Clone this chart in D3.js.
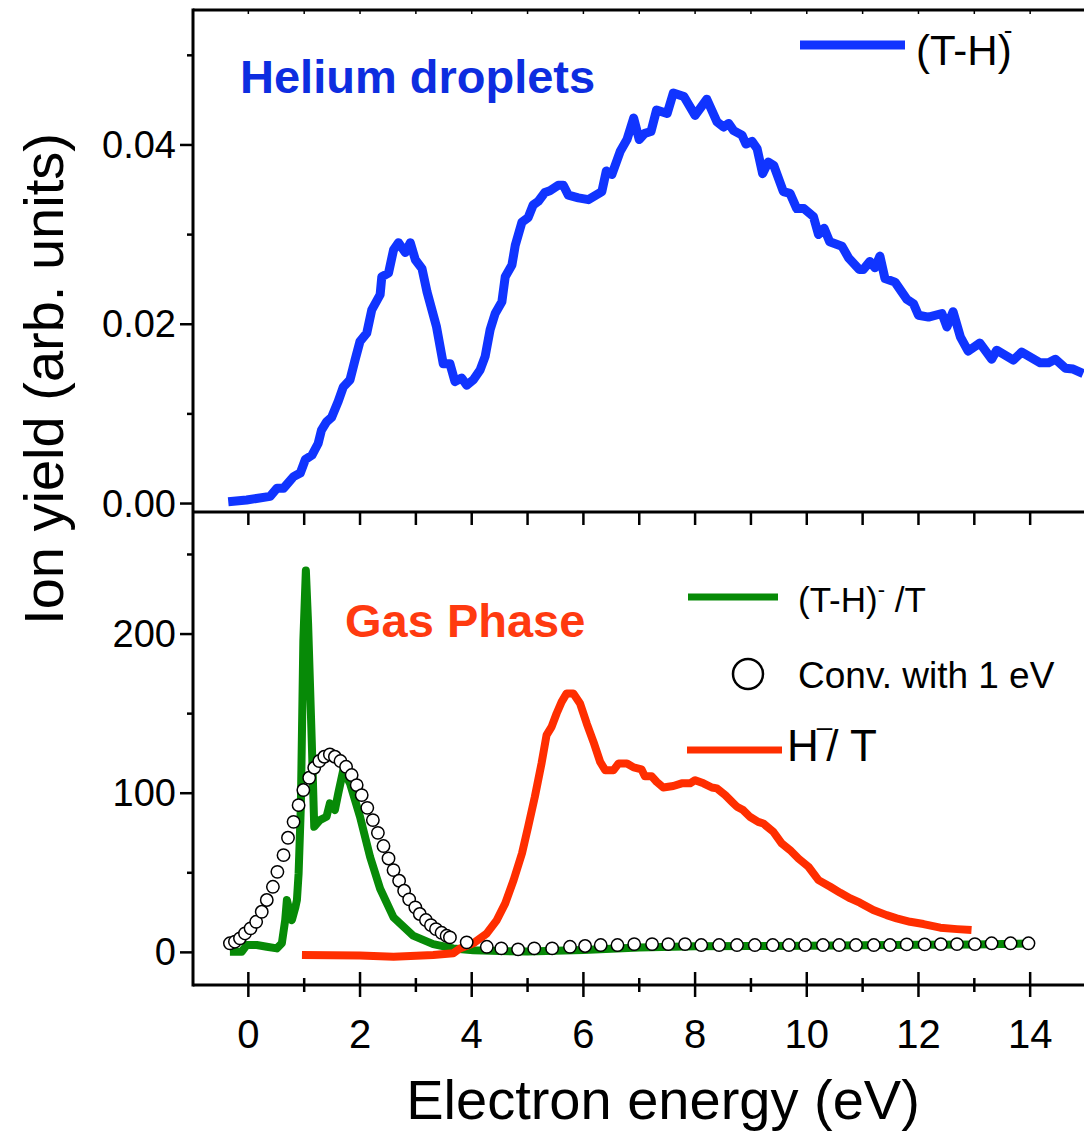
<!DOCTYPE html>
<html>
<head>
<meta charset="utf-8">
<script src="https://cdn.jsdelivr.net/npm/d3@7"></script>
<style>
  html, body { margin: 0; padding: 0; background: #fff; }
  svg { display: block; font-family: "Liberation Sans", Arial, Helvetica, sans-serif; }
</style>
</head>
<body>
<svg id="chart" width="1084" height="1132"></svg>
<script>
// ---- data: electron energy (eV) vs ion yield ----

// Helium droplets, (T-H)- yield (arb. units)
const heliumTH = [
  [-0.36,0.0002],[-0.03,0.0004],[0.39,0.0008],[0.51,0.0017],[0.63,0.0017],[0.81,0.0030],[0.93,0.0034],
  [1.02,0.0049],[1.14,0.0054],[1.25,0.0067],[1.31,0.0082],[1.40,0.0091],[1.49,0.0096],[1.61,0.0114],
  [1.70,0.0130],[1.82,0.0138],[1.91,0.0160],[2.00,0.0181],[2.12,0.0190],[2.21,0.0216],[2.36,0.0233],
  [2.39,0.0253],[2.51,0.0257],[2.60,0.0283],[2.69,0.0291],[2.81,0.0280],[2.90,0.0291],[2.99,0.0272],
  [3.11,0.0262],[3.20,0.0236],[3.37,0.0197],[3.49,0.0156],[3.61,0.0156],[3.70,0.0136],[3.82,0.0140],
  [3.91,0.0132],[4.03,0.0138],[4.15,0.0149],[4.24,0.0164],[4.33,0.0194],[4.42,0.0212],[4.54,0.0225],
  [4.60,0.0253],[4.72,0.0266],[4.78,0.0288],[4.90,0.0314],[5.01,0.0319],[5.10,0.0333],[5.19,0.0337],
  [5.31,0.0347],[5.40,0.0349],[5.55,0.0355],[5.64,0.0355],[5.73,0.0344],[5.91,0.0341],[6.09,0.0339],
  [6.33,0.0348],[6.41,0.0371],[6.51,0.0367],[6.66,0.0393],[6.78,0.0406],[6.90,0.0430],[7.00,0.0406],
  [7.10,0.0413],[7.21,0.0415],[7.31,0.0439],[7.50,0.0435],[7.61,0.0458],[7.80,0.0454],[8.00,0.0433],
  [8.21,0.0451],[8.39,0.0426],[8.51,0.0420],[8.60,0.0424],[8.69,0.0416],[8.84,0.0411],[8.91,0.0401],
  [9.02,0.0404],[9.11,0.0396],[9.21,0.0368],[9.31,0.0381],[9.41,0.0377],[9.58,0.0348],[9.70,0.0346],
  [9.82,0.0329],[9.95,0.0329],[10.12,0.0320],[10.21,0.0300],[10.31,0.0307],[10.41,0.0292],[10.63,0.0287],
  [10.75,0.0274],[10.94,0.0261],[11.01,0.0261],[11.13,0.0270],[11.22,0.0263],[11.31,0.0276],[11.40,0.0251],
  [11.58,0.0247],[11.79,0.0228],[11.91,0.0223],[12.00,0.0210],[12.18,0.0208],[12.42,0.0212],[12.51,0.0197],
  [12.62,0.0214],[12.75,0.0186],[12.89,0.0170],[13.10,0.0179],[13.31,0.0161],[13.40,0.0171],[13.70,0.0160],
  [13.85,0.0169],[14.18,0.0157],[14.33,0.0157],[14.45,0.0161],[14.63,0.0151],[14.77,0.0150],[14.95,0.0145]
];

// Gas phase, (T-H)- / T
const gasTH = [
  [-0.33,0.4],[-0.12,0.4],[-0.03,4.6],[0.15,4.6],[0.33,3.5],[0.51,2.5],[0.60,5.7],[0.66,20.3],
  [0.69,32.9],[0.75,24],[0.78,20.3],[0.84,28],[0.87,32.9],[0.90,49.6],[0.94,91.5],[0.985,196],
  [1.03,240],[1.07,206.7],[1.135,133.4],[1.18,78.9],[1.28,83.1],[1.40,85.2],[1.46,93.6],[1.55,89.4],
  [1.61,99.9],[1.70,114.5],[1.82,106.2],[2.00,85.2],[2.18,60],[2.36,40],[2.60,22],[2.95,10.5],
  [3.31,5.2],[3.67,2.5],[4.03,1.4],[4.5,0.8],[5.0,0.5],[6.0,1.5],[7.0,3.0],[8.0,3.8],[9.0,4.0],
  [10.0,4.2],[11.0,4.5],[12.0,4.8],[13.0,5.0],[14.0,5.5]
];

// Gas phase, (T-H)- / T convolved with 1 eV
const gasConv = [
  [-0.33,5.7],[-0.24,6.7],[-0.15,8.8],[-0.06,11.9],[0.04,15.1],[0.14,19.2],[0.24,25.5],[0.33,32.9],
  [0.44,41.2],[0.52,50.6],[0.63,61.1],[0.71,72],[0.81,82],[0.90,92.5],[0.985,102],[1.09,109.7],
  [1.18,116],[1.27,120.2],[1.36,122.9],[1.46,124.4],[1.55,122.9],[1.65,120.2],[1.75,116.6],[1.85,111.4],
  [1.94,105.1],[2.03,98.8],[2.13,90.8],[2.23,83.1],[2.32,75.1],[2.42,66.8],[2.51,59],[2.60,51.7],
  [2.70,45],[2.79,38.7],[2.88,33.3],[2.99,28.3],[3.07,24.1],[3.18,20.3],[3.27,17.1],[3.36,14.6],
  [3.46,12.3],[3.55,10.4],[3.61,9.4],[3.91,6.3],[4.27,3.5],[4.53,2.5],[4.83,1.9],[5.12,2.5],
  [5.44,2.5],[5.76,3.5],[6.03,4.0],[6.31,4.6],[6.61,4.6],[6.91,5.2],[7.23,5.2],[7.52,5.2],
  [7.82,5.2],[8.11,4.6],[8.43,4.6],[8.75,4.6],[9.07,4.6],[9.39,4.6],[9.68,4.6],[9.97,4.6],
  [10.29,4.6],[10.58,4.6],[10.88,4.6],[11.20,4.6],[11.49,4.6],[11.79,5.0],[12.11,5.0],[12.40,5.2],
  [12.69,5.2],[13.01,5.2],[13.31,5.7],[13.65,5.7],[13.97,5.7]
];

// Gas phase, H- / T
const gasH = [
  [0.96,-1.7],[2.0,-2.0],[2.6,-2.8],[3.31,-1.7],[3.67,-0.6],[3.79,2.5],[4.03,5.7],[4.27,11.9],
  [4.45,20.3],[4.60,30.8],[4.75,45.4],[4.90,62.2],[5.01,78.9],[5.13,97.7],[5.25,118.7],[5.34,136.5],
  [5.43,141.7],[5.52,150.1],[5.61,157.4],[5.70,162.7],[5.82,162.7],[5.94,156.4],[6.06,143.8],[6.18,132.3],
  [6.30,119.7],[6.39,114.5],[6.54,114.5],[6.63,118.7],[6.78,118.7],[6.90,116.2],[7.04,115],[7.10,110.7],
  [7.22,110.7],[7.31,107.2],[7.43,103.6],[7.61,104.5],[7.76,106.2],[7.91,106.2],[8.00,108.2],[8.15,106.2],
  [8.30,103.6],[8.39,103],[8.54,98.8],[8.66,94.6],[8.75,91.5],[8.86,89.4],[8.98,85.2],[9.13,82],
  [9.22,81],[9.40,75.8],[9.55,68.5],[9.70,64.3],[9.85,59],[10.03,53.8],[10.21,45.4],[10.42,41.2],
  [10.60,37.4],[10.78,33.9],[10.95,31.2],[11.19,26.6],[11.43,23.4],[11.61,21.4],[11.85,19.2],[12.09,17.8],
  [12.39,15.5],[12.69,14.6],[12.95,14]
];

// axis ticks
const xMajorTicks = [0, 2, 4, 6, 8, 10, 12, 14];
const xMinorTicks = [1, 3, 5, 7, 9, 11, 13, 15];
const topMajorTicks = [0.00, 0.02, 0.04];
const topMinorTicks = [0.01, 0.03, 0.05];
const bottomMajorTicks = [0, 100, 200];
const bottomMinorTicks = [50, 150, 250];

// ---- colours ----
const BLUE = "#1034ff", BLUE_TEXT = "#0d2de0";
const GREEN = "#078a07";
const RED = "#ff2e00", RED_TEXT = "#ff3a10";

const svg = d3.select("#chart");

const left = 193, right = 1086;
const topY0 = 10, sepY = 512, botY1 = 985;

const x = d3.scaleLinear().domain([-1, 15]).range([left - 0.5, right]);
const yTop = d3.scaleLinear().domain([-0.001, 0.055]).range([512.5, 10.5]);
const yBot = d3.scaleLinear().domain([-20.5, 276.5]).range([985, 512.3]);

// ---- plotted series (clipped to the panel areas) ----
const defs = svg.append("defs");
defs.append("clipPath").attr("id", "clipTop")
  .append("rect").attr("x", left).attr("y", topY0).attr("width", right - left).attr("height", sepY - topY0);
defs.append("clipPath").attr("id", "clipBot")
  .append("rect").attr("x", left).attr("y", sepY).attr("width", right - left).attr("height", botY1 - sepY);

const lineTop = d3.line().x(d => x(d[0])).y(d => yTop(d[1]));
const lineBot = d3.line().x(d => x(d[0])).y(d => yBot(d[1]));

svg.append("path").datum(heliumTH)
  .attr("clip-path", "url(#clipTop)")
  .attr("d", lineTop).attr("fill", "none").attr("stroke", BLUE)
  .attr("stroke-width", 9).attr("stroke-linejoin", "round").attr("stroke-linecap", "butt");

const gBot = svg.append("g").attr("clip-path", "url(#clipBot)");

gBot.append("path").datum(gasTH)
  .attr("d", lineBot).attr("fill", "none").attr("stroke", GREEN)
  .attr("stroke-width", 8).attr("stroke-linejoin", "round").attr("stroke-linecap", "butt");

gBot.append("path").datum(gasH)
  .attr("d", lineBot).attr("fill", "none").attr("stroke", RED)
  .attr("stroke-width", 8).attr("stroke-linejoin", "round").attr("stroke-linecap", "butt");

gBot.selectAll("circle.conv").data(gasConv).enter().append("circle")
  .attr("class", "conv")
  .attr("cx", d => x(d[0])).attr("cy", d => yBot(d[1]))
  .attr("r", 6.2).attr("fill", "#fff").attr("stroke", "#000").attr("stroke-width", 1.5);

// ---- frame and axes ----
const axisG = svg.append("g").attr("stroke", "#000").attr("stroke-width", 3).attr("fill", "none");
axisG.append("line").attr("x1", left).attr("x2", left).attr("y1", topY0 - 1.5).attr("y2", botY1 + 1.5);
axisG.append("line").attr("x1", left).attr("x2", right + 2).attr("y1", topY0).attr("y2", topY0);
axisG.append("line").attr("x1", left).attr("x2", right + 2).attr("y1", sepY).attr("y2", sepY);
axisG.append("line").attr("x1", left).attr("x2", right + 2).attr("y1", botY1).attr("y2", botY1);

const tickG = svg.append("g").attr("stroke", "#000").attr("stroke-width", 2.5);

// top frame: small inward ticks every eV
d3.range(0, 16).forEach(v => {
  tickG.append("line").attr("x1", x(v)).attr("x2", x(v)).attr("y1", topY0).attr("y2", topY0 + 4)
    .attr("stroke-width", 1.5);
});
// separator: ticks pointing down every eV
d3.range(0, 16).forEach(v => {
  tickG.append("line").attr("x1", x(v)).attr("x2", x(v)).attr("y1", sepY).attr("y2", sepY + 13);
});
// bottom axis: crossing ticks
xMajorTicks.forEach(v => {
  tickG.append("line").attr("x1", x(v)).attr("x2", x(v)).attr("y1", botY1 - 13).attr("y2", botY1 + 12);
});
xMinorTicks.forEach(v => {
  tickG.append("line").attr("x1", x(v)).attr("x2", x(v)).attr("y1", botY1 - 7).attr("y2", botY1 + 7);
});
// left axis ticks
topMajorTicks.forEach(v => {
  tickG.append("line").attr("x1", left - 13).attr("x2", left).attr("y1", yTop(v)).attr("y2", yTop(v));
});
topMinorTicks.forEach(v => {
  tickG.append("line").attr("x1", left - 6).attr("x2", left).attr("y1", yTop(v)).attr("y2", yTop(v));
});
bottomMajorTicks.forEach(v => {
  tickG.append("line").attr("x1", left - 13).attr("x2", left).attr("y1", yBot(v)).attr("y2", yBot(v));
});
bottomMinorTicks.forEach(v => {
  tickG.append("line").attr("x1", left - 6).attr("x2", left).attr("y1", yBot(v)).attr("y2", yBot(v));
});

// ---- tick labels ----
const labels = svg.append("g").attr("fill", "#000");
labels.selectAll("text.xt").data(xMajorTicks).enter().append("text")
  .attr("x", d => x(d)).attr("y", 1048).attr("text-anchor", "middle")
  .attr("font-size", 40).text(d => d3.format("d")(d));
labels.selectAll("text.yt").data(topMajorTicks).enter().append("text")
  .attr("x", 176).attr("y", d => yTop(d) + 13).attr("text-anchor", "end")
  .attr("font-size", 38).text(d => d3.format(".2f")(d));
labels.selectAll("text.yb").data(bottomMajorTicks).enter().append("text")
  .attr("x", 176).attr("y", d => yBot(d) + 13).attr("text-anchor", "end")
  .attr("font-size", 38).text(d => d3.format("d")(d));

// ---- axis titles ----
svg.append("text").attr("x", 663).attr("y", 1119).attr("text-anchor", "middle")
  .attr("font-size", 56).text("Electron energy (eV)");
svg.append("text").attr("transform", "translate(63,379) rotate(-90)").attr("text-anchor", "middle")
  .attr("font-size", 56).text("Ion yield (arb. units)");

// ---- panel captions ----
svg.append("text").attr("x", 240).attr("y", 93).attr("font-size", 47).attr("font-weight", "bold")
  .attr("fill", BLUE_TEXT).text("Helium droplets");
svg.append("text").attr("x", 345).attr("y", 637).attr("font-size", 47).attr("font-weight", "bold")
  .attr("fill", RED_TEXT).text("Gas Phase");

// ---- legends ----
// top panel
svg.append("line").attr("x1", 800).attr("x2", 905).attr("y1", 45).attr("y2", 45)
  .attr("stroke", BLUE).attr("stroke-width", 9);
const lt = svg.append("text").attr("x", 916).attr("y", 65).attr("font-size", 42);
lt.append("tspan").text("(T-H)");
lt.append("tspan").attr("dx", -8).attr("dy", -26).attr("font-size", 26).text("-");

// bottom panel
svg.append("line").attr("x1", 688).attr("x2", 778).attr("y1", 597).attr("y2", 597)
  .attr("stroke", GREEN).attr("stroke-width", 7);
const lg = svg.append("text").attr("x", 798).attr("y", 612).attr("font-size", 35);
lg.append("tspan").text("(T-H)");
lg.append("tspan").attr("dy", -15).attr("font-size", 22).text("-");
lg.append("tspan").attr("dy", 15).text(" /T");

svg.append("circle").attr("cx", 748).attr("cy", 674).attr("r", 15)
  .attr("fill", "#fff").attr("stroke", "#000").attr("stroke-width", 2.5);
svg.append("text").attr("x", 798).attr("y", 688).attr("font-size", 37).text("Conv. with 1 eV");

svg.append("line").attr("x1", 687).attr("x2", 782).attr("y1", 750).attr("y2", 750)
  .attr("stroke", RED).attr("stroke-width", 7);
const lr = svg.append("text").attr("x", 787).attr("y", 761).attr("font-size", 44);
lr.append("tspan").text("H");
lr.append("tspan").attr("dx", -2).attr("dy", -25).attr("font-size", 28).text("\u2013");
lr.append("tspan").attr("dx", -6).attr("dy", 25).text("/ T");
</script>
</body>
</html>
